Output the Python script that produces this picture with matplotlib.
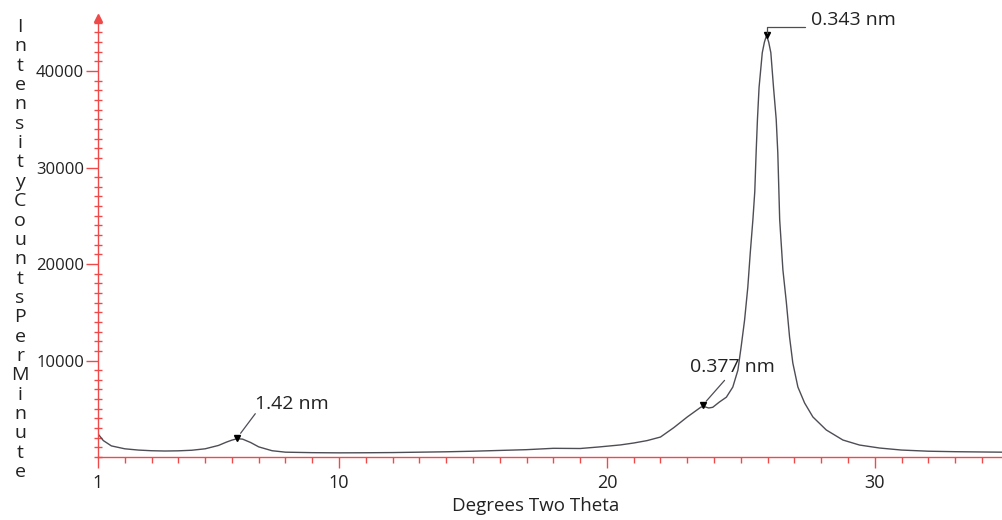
import matplotlib
matplotlib.use("Agg")
import matplotlib.pyplot as plt
from matplotlib.ticker import FixedLocator, MultipleLocator

plt.rcParams['font.family'] = ['Open Sans', 'DejaVu Sans']

# diffraction scan
two_theta = [1.0, 1.2, 1.5, 2.0, 2.5, 3.0, 3.5, 4.0, 4.5, 5.0, 5.5, 5.8, 6.0,
             6.2, 6.4, 6.7, 7.0, 7.5, 8.0, 9.0, 10.0, 11.0, 12.0, 13.0, 14.0,
             15.0, 16.0, 17.0, 18.0, 19.0, 19.7, 20.5, 21.0, 21.5, 22.0, 22.5,
             23.0, 23.5, 23.6, 23.8, 23.95, 24.2, 24.46, 24.7, 24.89, 25.01,
             25.14, 25.26, 25.35, 25.45, 25.52, 25.57, 25.62, 25.68, 25.8,
             25.88, 25.96, 26.04, 26.12, 26.22, 26.32, 26.38, 26.45, 26.57,
             26.7, 26.82, 26.94, 27.13, 27.38, 27.69, 28.19, 28.81, 29.43,
             30.18, 31.0, 32.0, 33.0, 34.0, 34.75]
counts = [2400, 1700, 1150, 850, 720, 650, 620, 640, 700, 850, 1200, 1550, 1750,
          1900, 1850, 1500, 1050, 650, 500, 450, 430, 440, 460, 500, 540,
          600, 680, 760, 900, 880, 1040, 1250, 1450, 1700, 2070, 3050,
          4150, 5150, 5250, 5080, 5150, 5700, 6200, 7250, 9000, 11400,
          14200, 17600, 21100, 24600, 27500, 31500, 35000, 38300, 41900,
          43000, 43700, 43000, 41900, 38300, 35000, 31500, 24600, 19400,
          16000, 12400, 9750, 7250, 5600, 4150, 2800, 1760, 1240,
          930, 720, 600, 550, 520, 500]

# labelled peaks
peak_theta = [6.2, 23.57, 25.96]
peak_counts = [2000, 5350, 43700]
peak_labels = ['1.42 nm', '0.377 nm', '0.343 nm']

x_ticks = [1, 10, 20, 30]
y_ticks = [10000, 20000, 30000, 40000]
y_title = 'IntensityCountsPerMinute'

axis_red = '#ee4a4a'
line_grey = '#4d4d55'

fig = plt.figure(figsize=(10.02, 5.2), dpi=100)
ax = fig.add_axes([98 / 1002, 63 / 520, 1 - 98 / 1002, (457 - 18) / 520])

ax.plot(two_theta, counts, color=line_grey, lw=1.0)
ax.plot(peak_theta, peak_counts, 'v', color='black', ms=5, clip_on=False)

ax.set_xlim(1, 34.75)
ax.set_ylim(0, 45500)

for s in ['top', 'right']:
    ax.spines[s].set_visible(False)
for s in ['left', 'bottom']:
    ax.spines[s].set_color(axis_red)
    ax.spines[s].set_linewidth(1.0)

# arrow head on top of y axis
ax.plot(0, 1, '^', color=axis_red, ms=6, transform=ax.transAxes, clip_on=False)

ax.xaxis.set_major_locator(FixedLocator(x_ticks))
ax.xaxis.set_minor_locator(MultipleLocator(1))
ax.yaxis.set_major_locator(FixedLocator(y_ticks))
ax.yaxis.set_minor_locator(MultipleLocator(1000))
ax.tick_params(axis='x', which='major', length=8, color=axis_red, width=1,
               labelsize=13, pad=4, labelcolor='#222222')
ax.tick_params(axis='x', which='minor', length=4, color=axis_red, width=1)
ax.tick_params(axis='y', which='major', length=9, color=axis_red, width=1,
               labelsize=12, pad=1, labelcolor='#222222')
ax.tick_params(axis='y', which='minor', direction='inout', length=6,
               color=axis_red, width=1)

ax.set_xlabel('Degrees Two Theta', fontsize=13.5, color='#222222')
ax.xaxis.set_label_coords((536 - 98) / (1002 - 98), -40 / 439)

# stacked y title, one letter per line
for i, ch in enumerate(y_title):
    fig.text(20 / 1002, 1 - (27 + i * 19.35) / 520, ch, fontsize=14,
             ha='center', va='center', color='#222222')

# peak labels with leader lines
text_offsets = [(18, 34), (-13, 38), (44, 15)]
for th, c, lab, off in zip(peak_theta, peak_counts, peak_labels, text_offsets):
    ax.annotate(lab, xy=(th, c), xytext=off, textcoords='offset pixels',
                ha='left', va='center', fontsize=14, color='#222222')

ax.annotate('', xy=(peak_theta[0], peak_counts[0]), xytext=(18, 24),
            textcoords='offset pixels',
            arrowprops=dict(arrowstyle='-', color=line_grey, lw=0.9,
                            shrinkA=0, shrinkB=4))
ax.annotate('', xy=(peak_theta[1], peak_counts[1]), xytext=(22, 25),
            textcoords='offset pixels',
            arrowprops=dict(arrowstyle='-', color=line_grey, lw=0.9,
                            shrinkA=0, shrinkB=4))
ax.annotate('', xy=(peak_theta[2], peak_counts[2]), xytext=(38, 8),
            textcoords='offset pixels',
            arrowprops=dict(arrowstyle='-', color=line_grey, lw=0.9,
                            shrinkA=0, shrinkB=2,
                            connectionstyle='angle,angleA=0,angleB=90,rad=0'))

fig.savefig('out.png', dpi=100)
